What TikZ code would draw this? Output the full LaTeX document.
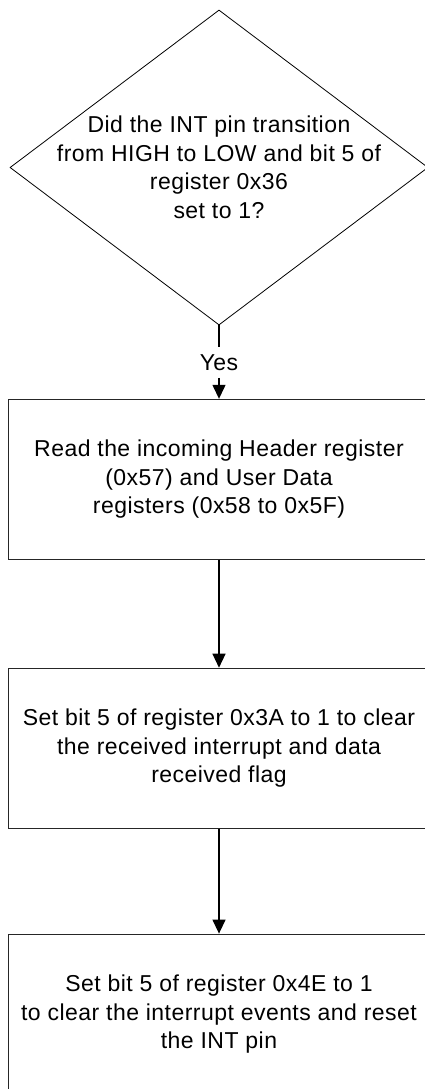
\documentclass[tikz,border=0pt]{standalone}
\usepackage{fontspec}
\setmainfont{Liberation Sans}[LetterSpace=2]
\usetikzlibrary{positioning, arrows.meta, shapes.geometric}

\begin{document}
\begin{tikzpicture}[
    x=1pt, y=1pt,
    every node/.style={align=center, font=\fontsize{23}{28.5}\selectfont},
    stepbox/.style={rectangle, draw=black!85, line width=0.9pt, minimum width=422pt, minimum height=160pt, inner sep=0pt},
    decisionbox/.style={diamond, draw, line width=0.8pt, minimum width=418pt, minimum height=315pt, inner sep=0pt},
    arrow/.style={-{Triangle[length=14pt, width=13pt]}, line width=1.3pt}
]
\useasboundingbox (0,0) rectangle (425,-1089);
\clip (0,0) rectangle (425,-1089);
\node (decision) [decisionbox] at (219,-167.5) {};
\node (question) at (decision.center) {Did the INT pin transition \\ from HIGH to LOW and bit 5 of \\ register 0x36 \\ set to 1?};
\node (yes) [below=22pt of decision, minimum height=30pt, inner sep=0pt] {Yes};
\node (readdata) [stepbox, below=21pt of yes] {Read the incoming Header register \\ (0x57) and User Data \\ registers (0x58 to 0x5F)};
\node (clearflag) [stepbox, below=108pt of readdata] {Set bit 5 of register 0x3A to 1 to clear \\ the received interrupt and data \\ received flag};
\node (resetint) [stepbox, below=105pt of clearflag] {Set bit 5 of register 0x4E to 1 \\ to clear the interrupt events and reset \\ the INT pin};

\draw [line width=1.3pt] (decision.south) -- (yes.north);
\draw [arrow] (yes.south) -- (readdata.north);
\draw [arrow] (readdata) -- (clearflag);
\draw [arrow] (clearflag) -- (resetint);
\end{tikzpicture}
\end{document}
